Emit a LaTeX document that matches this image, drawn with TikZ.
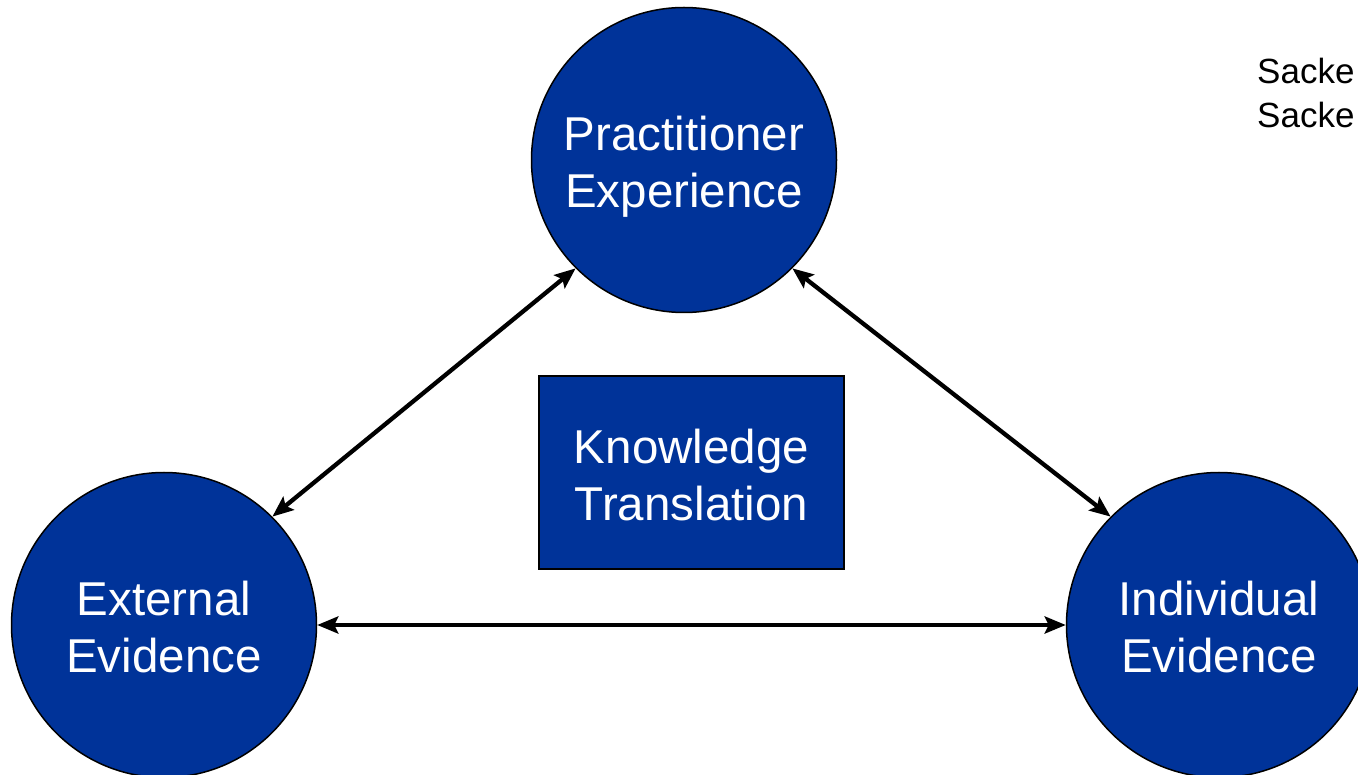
\documentclass[tikz,border=0pt]{standalone}
\usepackage{fontspec}
\setmainfont{Liberation Sans}
\usetikzlibrary{arrows.meta}
\definecolor{kblue}{RGB}{0,51,153}

\begin{document}
\begin{tikzpicture}[x=1pt,y=-1pt,
  bubble/.style={circle, draw=black, line width=1.5pt, fill=kblue, minimum size=305pt, inner sep=0pt},
  btext/.style={text=white, align=center, inner sep=0pt, font=\fontsize{47.5}{57}\selectfont},
  kbox/.style={rectangle, draw=black, line width=1.5pt, fill=kblue, text=white, minimum width=305pt, minimum height=193pt, align=center, font=\fontsize{47.5}{57}\selectfont},
  link/.style={line width=4.3pt, {Stealth[length=21pt,width=17pt,inset=4pt]}-{Stealth[length=21pt,width=17pt,inset=4pt]}}]
\clip (0,0) rectangle (1358,775);
\useasboundingbox (0,0) rectangle (1358,775);

\node[bubble] (prac) at (684,160) {};
\node[bubble] (ext) at (164,625) {};
\node[bubble] (ind) at (1219,625) {};
\node[btext] (pracT) at (684,167) {Practitioner\\Experience};
\node[btext] (extT) at (164,627) {External\\Evidence};
\node[btext] (indT) at (1219,627) {Individual\\Evidence};
\node[kbox] (kt) at (691.5,472.5) {};
\node[btext] (ktT) at (691.5,475) {Knowledge\\Translation};

\draw[link] (ext.45) -- (prac.225);
\draw[link] (prac.-45) -- (ind.135);
\draw[link] (ext.east) -- (ind.west);

\node[anchor=north west, inner sep=0pt, align=left, font=\fontsize{35}{44}\selectfont] (src) at (1257,58) {Sacke\\Sacke};

\end{tikzpicture}
\end{document}
